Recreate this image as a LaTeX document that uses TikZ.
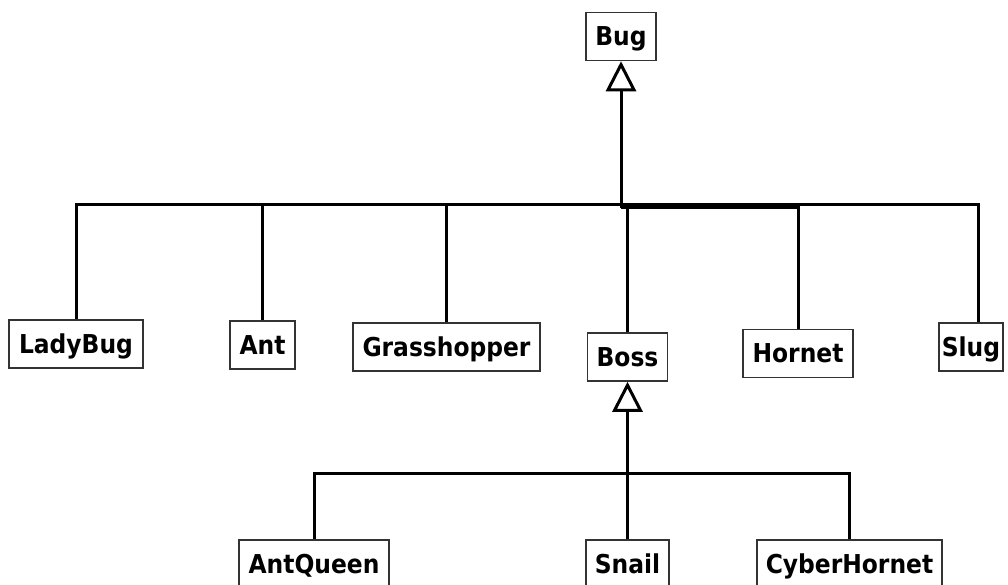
\documentclass[tikz,border=0pt]{standalone}
\usepackage{fontspec}
\newfontfamily\umlfont{DejaVu Sans Condensed}
\usetikzlibrary{arrows.meta}
\begin{document}
\begin{tikzpicture}[x=1pt,y=-1pt,
  cls/.style={draw=black!80,line width=1.5pt,fill=white,inner sep=0pt,
    minimum height=48pt,text height=19pt,text depth=1pt,
    font=\umlfont\bfseries\fontsize{26}{31}\selectfont},
  link/.style={draw=black,line width=3pt},
  inherit/.style={link,-{Triangle[open,length=30pt,width=30pt,fill=white]}}]
\useasboundingbox (0,0) rectangle (1008,584);
\clip (0,0) rectangle (1008,584);
\fill[white] (0,0) rectangle (1008,584);

% class boxes
\node[cls,minimum width=70pt]  (bug)    at (621,36.5) {Bug};
\node[cls,minimum width=134pt] (lady)   at (76,344)   {LadyBug};
\node[cls,minimum width=65pt]  (ant)    at (262.5,345) {Ant};
\node[cls,minimum width=187pt] (grass)  at (446.5,347) {Grasshopper};
\node[cls,minimum width=80pt]  (boss)   at (627.5,357) {Boss};
\node[cls,minimum width=110pt] (hornet) at (798,353.5) {Hornet};
\node[cls,minimum width=64pt]  (slug)   at (971,347)  {Slug};
\node[cls,minimum width=150pt] (queen)  at (314,564)  {AntQueen};
\node[cls,minimum width=83pt]  (snail)  at (627.5,564) {Snail};
\node[cls,minimum width=185pt] (cyber)  at (849.5,564) {CyberHornet};

% junction points of the two inheritance trees
\coordinate (bugbus)  at (621,204.5);
\coordinate (bugbus2) at (621,207.5);
\coordinate (bossbus) at (627.5,473);

% Bug hierarchy
\draw[link] (lady.north)  |- (bugbus);
\draw[link] (ant.north)   |- (bugbus);
\draw[link] (grass.north) |- (bugbus);
\draw[link] ([xshift=7pt]slug.north) |- (bugbus);
\draw[link] (hornet.north) |- (bugbus);
\draw[link] (boss.north)  |- (bugbus2);
\draw[link] (hornet.north) |- (bugbus2);
\draw[inherit] (bugbus2) -- (bug.south);

% Boss hierarchy
\draw[link] (queen.north) |- (bossbus);
\draw[link] (cyber.north) |- (bossbus);
\draw[link] (snail.north) -- (bossbus);
\draw[inherit] (bossbus) -- (boss.south);
\end{tikzpicture}
\end{document}
